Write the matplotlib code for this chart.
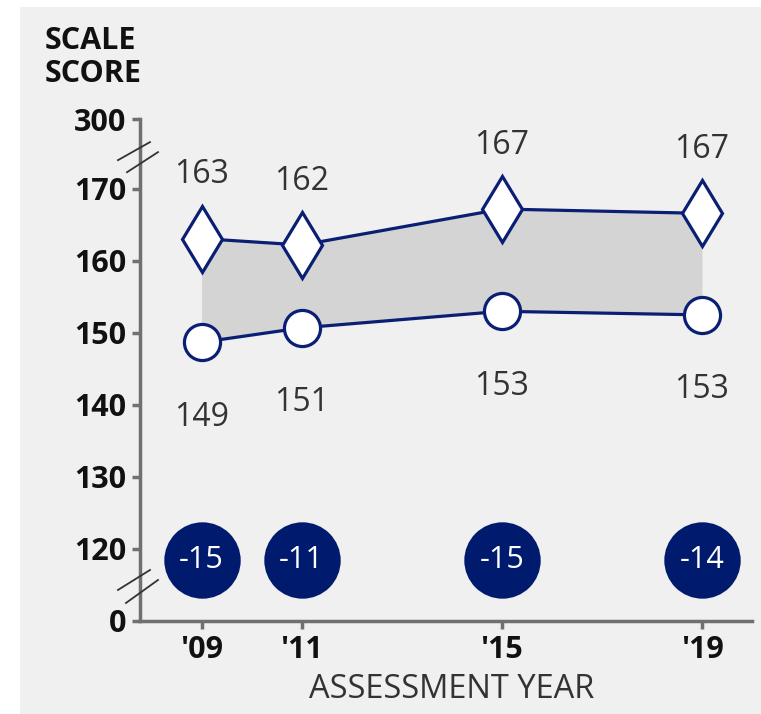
import matplotlib.pyplot as plt
from matplotlib.patches import Rectangle

plt.rcParams['font.family'] = ['Open Sans', 'DejaVu Sans']

years = [2009, 2011, 2015, 2019]
year_labels = ["'09", "'11", "'15", "'19"]
top_scores = [163.1, 162.2, 167.2, 166.6]
top_labels = ['163', '162', '167', '167']
low_scores = [148.7, 150.7, 153.0, 152.5]
low_labels = ['149', '151', '153', '153']
gaps = ['-15', '-11', '-15', '-14']

# axis: 120-170 is linear, 0 and 300 are put one step beyond the break
ytick_pos = [110, 120, 130, 140, 150, 160, 170, 179.7]
ytick_labels = ['0', '120', '130', '140', '150', '160', '170', '300']
gap_row = 118.5

navy = '#0a1f73'
axis_gray = '#707070'
text_gray = '#333333'

W, H = 761, 714
fig = plt.figure(figsize=(W / 100, H / 100), dpi=100, facecolor='white')
fig.patches.append(Rectangle((20 / W, 0), 1, (H - 7) / H, transform=fig.transFigure,
                             facecolor='#f0f0f0', edgecolor='none', zorder=-10))

ax = fig.add_axes([140 / W, (H - 621) / H, 612 / W, 502 / H])
ax.set_facecolor('none')
ax.set_xlim(2007.77, 2020.0)
ax.set_ylim(110, 179.7)

ax.fill_between(years, low_scores, top_scores, color='#d4d4d4', lw=0, zorder=1)
ax.plot(years, top_scores, color=navy, lw=2.3, marker='d', ms=34, mfc='white',
        mec=navy, mew=2.3, zorder=3, clip_on=False)
ax.plot(years, low_scores, color=navy, lw=2.3, marker='o', ms=26, mfc='white',
        mec=navy, mew=2.3, zorder=3, clip_on=False)

for x, y, t in zip(years, top_scores, top_labels):
    ax.annotate(t, (x, y), xytext=(0, 46), textcoords='offset points', ha='center',
                va='center', fontsize=23, color=text_gray)
for x, y, t in zip(years, low_scores, low_labels):
    ax.annotate(t, (x, y), xytext=(0, -54), textcoords='offset points', ha='center',
                va='center', fontsize=23, color=text_gray)

ax.plot(years, [gap_row] * len(years), linestyle='none', marker='o', ms=55,
        mfc='#001a6e', mec='none', zorder=4, clip_on=False)
for x, g in zip(years, gaps):
    ax.text(x, gap_row, g, ha='center', va='center', fontsize=22, color='white', zorder=5)

for s in ['top', 'right']:
    ax.spines[s].set_visible(False)
for s in ['left', 'bottom']:
    ax.spines[s].set_color(axis_gray)
    ax.spines[s].set_linewidth(2.5)

ax.set_xticks(years)
ax.set_xticklabels(year_labels, fontsize=22, fontweight='bold', color='#111111')
ax.set_yticks(ytick_pos)
ax.set_yticklabels(ytick_labels, fontsize=22, fontweight='bold', color='#111111')
ax.tick_params(axis='both', length=6, width=2.5, color=axis_gray)
ax.tick_params(axis='x', pad=4)
ax.tick_params(axis='y', pad=4)

# axis break marks
for (x0, y0, x1, y1) in [(-0.036, 0.918, 0.0163, 0.954), (-0.0212, 0.894, 0.0294, 0.934),
                         (-0.036, 0.0618, 0.0163, 0.1016), (-0.0229, 0.0359, 0.0294, 0.0817)]:
    ax.plot([x0, x1], [y0, y1], transform=ax.transAxes, color='#333333', lw=1.3,
            clip_on=False, zorder=6)

fig.text(45 / W, 1 - 41 / H, 'SCALE', fontsize=22, fontweight='bold', color='#111111',
         ha='left', va='center')
fig.text(45 / W, 1 - 74 / H, 'SCORE', fontsize=22, fontweight='bold', color='#111111',
         ha='left', va='center')
fig.text(452 / W, 1 - 690 / H, 'ASSESSMENT YEAR', fontsize=23.5, color=text_gray,
         ha='center', va='center')

fig.savefig('out.png', dpi=100, facecolor='white')
